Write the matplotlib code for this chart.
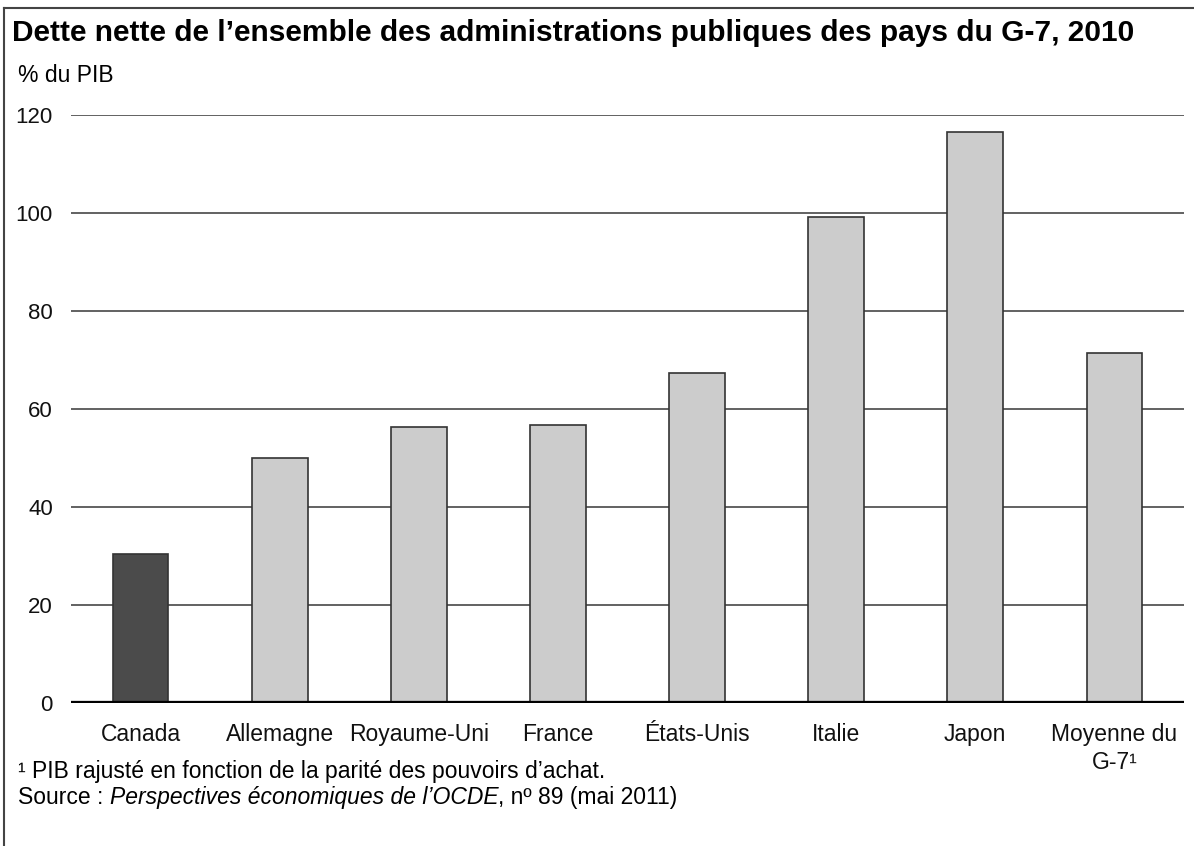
import matplotlib.pyplot as plt
from matplotlib.lines import Line2D

plt.rcParams['font.family'] = ['Liberation Sans', 'DejaVu Sans']

# Data
pays = ["Canada", "Allemagne", "Royaume-Uni", "France", "États-Unis",
        "Italie", "Japon", "Moyenne du\nG-7\u00b9"]
dette = [30.5, 50.1, 56.3, 56.7, 67.3, 99.2, 116.4, 71.4]
couleurs = ["#4b4b4b"] + ["#cccccc"] * 7
yticks = [0, 20, 40, 60, 80, 100, 120]

fig = plt.figure(figsize=(11.94, 8.46), dpi=100)
ax = fig.add_axes([0.0595, 0.1687, 0.9321, 0.6957])

x = range(len(pays))
ax.bar(x, dette, width=0.4, color=couleurs, edgecolor="#333333",
       linewidth=1.2, zorder=2)
ax.axhline(0, color="black", linewidth=3.8, zorder=3)

ax.set_xlim(-0.5, len(pays) - 0.5)
ax.set_ylim(0, 120)
ax.set_yticks(yticks)
ax.yaxis.grid(True, color="#555555", linewidth=1.3, zorder=0)
ax.set_axisbelow(True)
for s in ax.spines.values():
    s.set_visible(False)
ax.tick_params(axis="both", length=0, colors="#111111")
ax.tick_params(axis="y", pad=13, labelsize=16)
ax.tick_params(axis="x", pad=14, labelsize=16.5)
ax.set_xticks(list(x))
ax.set_xticklabels(pays, linespacing=1.3)

# title and notes
fig.text(12 / 1194, 1 - 33 / 846, "Dette nette de l\u2019ensemble des administrations "
         "publiques des pays du G-7, 2010", fontsize=21.5, fontweight="bold",
         va="center", ha="left")
fig.text(18 / 1194, 1 - 75 / 846, "% du PIB", fontsize=16.5, va="center")
fig.text(18 / 1194, 1 - 771 / 846,
         "\u00b9 PIB rajusté en fonction de la parité des pouvoirs d\u2019achat.",
         fontsize=16.5, va="center")
t = fig.text(18 / 1194, 1 - 797 / 846, "Source : ", fontsize=16.5, va="center")
fig.canvas.draw()
bb = t.get_window_extent()
t2 = fig.text(bb.x1 / 1194, 1 - 797 / 846,
              "Perspectives économiques de l\u2019OCDE", fontsize=16.5,
              style="italic", va="center")
bb2 = t2.get_window_extent()
fig.text(bb2.x1 / 1194, 1 - 797 / 846, ", n\u00ba 89 (mai 2011)",
         fontsize=16.5, va="center")

# frame (top and left only)
fig.add_artist(Line2D([4 / 1194, 1], [1 - 8 / 846, 1 - 8 / 846],
                      color="#444444", linewidth=1.5))
fig.add_artist(Line2D([4 / 1194, 4 / 1194], [0, 1 - 8 / 846],
                      color="#444444", linewidth=1.5))

fig.savefig("out.png", dpi=100)
